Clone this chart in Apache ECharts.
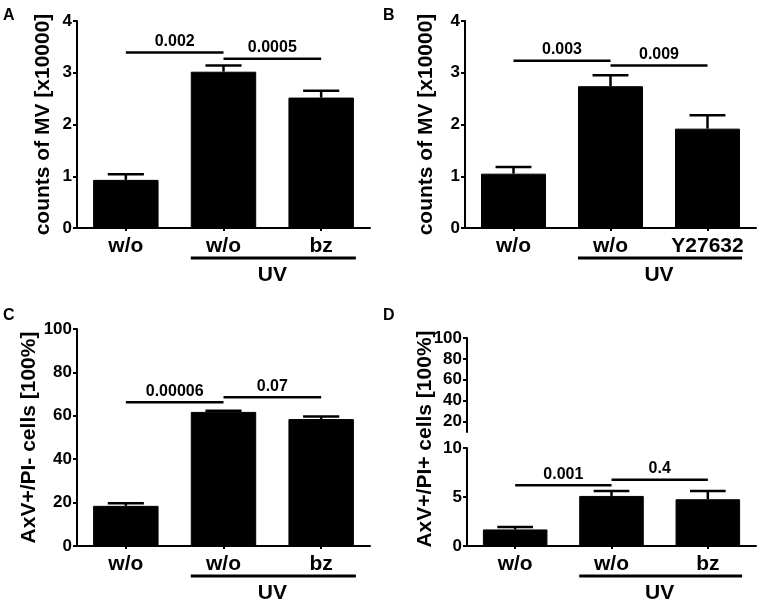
<!DOCTYPE html>
<html>
<head>
<meta charset="utf-8">
<script src="https://cdn.jsdelivr.net/npm/echarts@6/dist/echarts.min.js"></script>
<style>
html,body{margin:0;padding:0;background:#fff;}
#c{width:758px;height:606px;}
</style>
</head>
<body>
<div id="c"></div>
<script>
// ---------- data ----------
const catsA = ['w/o', 'w/o', 'bz'];
const meanA = [0.93, 3.02, 2.52];
const errA  = [0.11, 0.12, 0.13];
const sigA  = [[0, 1, 3.39], [1, 2, 3.27]];
const sigLabA = ['0.002', '0.0005'];
const ticksA = [0, 1, 2, 3, 4];

const catsB = ['w/o', 'w/o', 'Y27632'];
const meanB = [1.05, 2.74, 1.92];
const errB  = [0.13, 0.21, 0.26];
const sigB  = [[0, 1, 3.23], [1, 2, 3.14]];
const sigLabB = ['0.003', '0.009'];
const ticksB = [0, 1, 2, 3, 4];

const catsC = ['w/o', 'w/o', 'bz'];
const meanC = [18.5, 61.8, 58.5];
const errC  = [1.2, 0.5, 1.2];
const sigC  = [[0, 1, 66.3], [1, 2, 68.6]];
const sigLabC = ['0.00006', '0.07'];
const ticksC = [0, 20, 40, 60, 80, 100];

const catsD = ['w/o', 'w/o', 'bz'];
const meanD = [1.69, 5.11, 4.77];
const errD  = [0.26, 0.51, 0.85];
const sigD  = [[0, 1, 6.2], [1, 2, 6.75]];
const sigLabD = ['0.001', '0.4'];
const ticksDLow = [0, 5, 10];
const ticksDHigh = [20, 40, 60, 80, 100];

const uvGroup = [[1, 2]];
const uvLabel = 'UV';

const yNames = ['counts of MV [x10000]', 'counts of MV [x10000]', 'AxV+/PI- cells [100%]', 'AxV+/PI+ cells [100%]'];
const panelLetters = ['A', 'B', 'C', 'D'];

// ---------- helpers ----------
const FONT = 'Liberation Sans, Arial, sans-serif';
const BAR_FRAC = 0.67;

function grid(left, top, width, height) {
  return { left, top, width, height, outerBoundsMode: 'none', containLabel: false };
}
function xCat(gi, cats, show) {
  return {
    type: 'category', gridIndex: gi, data: cats, show: show !== false,
    axisLine: { lineStyle: { color: '#000', width: 2 } },
    axisTick: { show: true, alignWithLabel: true, length: 3, lineStyle: { color: '#000', width: 2 } },
    axisLabel: { color: '#000', fontFamily: FONT, fontWeight: 'bold', fontSize: 21, margin: 8, interval: 0 },
    splitLine: { show: false }
  };
}
function yVal(gi, min, max, ticks, name, gap) {
  return {
    type: 'value', gridIndex: gi, min, max,
    name: name || '', nameLocation: 'middle', nameGap: gap || 0, nameRotate: 90,
    nameTextStyle: { color: '#000', fontFamily: FONT, fontWeight: 'bold', fontSize: 21 },
    axisLine: { show: true, lineStyle: { color: '#000', width: 2 } },
    axisTick: { show: true, length: 4, customValues: ticks, lineStyle: { color: '#000', width: 2 } },
    axisLabel: { color: '#000', fontFamily: FONT, fontWeight: 'bold', fontSize: 17, margin: 5, customValues: ticks },
    splitLine: { show: false }
  };
}
function barSeries(gi, mean) {
  return {
    type: 'bar', xAxisIndex: gi, yAxisIndex: gi, data: mean,
    barWidth: (BAR_FRAC * 100) + '%',
    itemStyle: { color: '#000', borderColor: '#000', borderWidth: 1 },
    silent: true
  };
}
function errSeries(gi, mean, err) {
  return {
    type: 'custom', xAxisIndex: gi, yAxisIndex: gi, silent: true, z: 3,
    data: mean.map((m, i) => [i, m, err[i]]),
    encode: { x: 0, y: 1 },
    renderItem(params, api) {
      const x = api.value(0), m = api.value(1), e = api.value(2);
      const p0 = api.coord([x, m]);
      const p1 = api.coord([x, m + e]);
      const bw = api.size([1, 0])[0];
      const cap = bw * 0.37;
      const st = { stroke: '#000', lineWidth: 2.5 };
      return { type: 'group', children: [
        { type: 'line', shape: { x1: p0[0], y1: p0[1], x2: p0[0], y2: p1[1] }, style: st },
        { type: 'line', shape: { x1: p0[0] - cap / 2, y1: p1[1], x2: p0[0] + cap / 2, y2: p1[1] }, style: st }
      ]};
    }
  };
}
function sigSeries(gi, sig, labels) {
  return {
    type: 'custom', xAxisIndex: gi, yAxisIndex: gi, silent: true, z: 4,
    data: sig, encode: { x: [0, 1], y: 2 },
    renderItem(params, api) {
      const a = api.coord([api.value(0), api.value(2)]);
      const b = api.coord([api.value(1), api.value(2)]);
      return { type: 'group', children: [
        { type: 'line', shape: { x1: a[0], y1: a[1], x2: b[0], y2: b[1] }, style: { stroke: '#000', lineWidth: 2.5 } },
        { type: 'text', x: (a[0] + b[0]) / 2, y: a[1] - 3,
          style: { text: labels[params.dataIndex], fill: '#000', font: 'bold 16px ' + FONT, textAlign: 'center', textVerticalAlign: 'bottom' } }
      ]};
    }
  };
}
function uvSeries(gi) {
  return {
    type: 'custom', xAxisIndex: gi, yAxisIndex: gi, silent: true, z: 4,
    data: uvGroup, encode: { x: [0, 1] },
    renderItem(params, api) {
      const l = api.coord([api.value(0), 0]);
      const r = api.coord([api.value(1), 0]);
      const bw = api.size([1, 0])[0] * BAR_FRAC;
      const y = l[1] + 30;
      return { type: 'group', children: [
        { type: 'line', shape: { x1: l[0] - bw / 2, y1: y, x2: r[0] + bw / 2 + 2, y2: y }, style: { stroke: '#000', lineWidth: 3 } },
        { type: 'text', x: (l[0] + r[0]) / 2, y: y + 17,
          style: { text: uvLabel, fill: '#000', font: 'bold 21px ' + FONT, textAlign: 'center', textVerticalAlign: 'middle' } }
      ]};
    }
  };
}

const option = {
  backgroundColor: '#fff',
  animation: false,
  grid: [
    grid(77, 21, 293, 207),
    grid(465, 21, 291, 207),
    grid(77, 329, 293, 217),
    grid(467, 448, 289, 98),
    grid(467, 338, 289, 94)
  ],
  xAxis: [
    xCat(0, catsA), xCat(1, catsB), xCat(2, catsC), xCat(3, catsD), xCat(4, catsD, false)
  ],
  yAxis: [
    yVal(0, 0, 4, ticksA, yNames[0], 23),
    yVal(1, 0, 4, ticksB, yNames[1], 28),
    yVal(2, 0, 100, ticksC, yNames[2], 28),
    yVal(3, 0, 10, ticksDLow),
    yVal(4, 10, 100, ticksDHigh)
  ],
  graphic: [
    { type: 'text', left: 3, top: 8, style: { text: panelLetters[0], font: 'bold 16px ' + FONT, fill: '#000' } },
    { type: 'text', left: 383, top: 8, style: { text: panelLetters[1], font: 'bold 16px ' + FONT, fill: '#000' } },
    { type: 'text', left: 3, top: 308, style: { text: panelLetters[2], font: 'bold 16px ' + FONT, fill: '#000' } },
    { type: 'text', left: 383, top: 308, style: { text: panelLetters[3], font: 'bold 16px ' + FONT, fill: '#000' } },
    { type: 'text', x: 425, y: 439, rotation: Math.PI / 2,
      style: { text: yNames[3], font: 'bold 21px ' + FONT, fill: '#000', textAlign: 'center', textVerticalAlign: 'middle' } }
  ],
  series: [
    barSeries(0, meanA), errSeries(0, meanA, errA), sigSeries(0, sigA, sigLabA), uvSeries(0),
    barSeries(1, meanB), errSeries(1, meanB, errB), sigSeries(1, sigB, sigLabB), uvSeries(1),
    barSeries(2, meanC), errSeries(2, meanC, errC), sigSeries(2, sigC, sigLabC), uvSeries(2),
    barSeries(3, meanD), errSeries(3, meanD, errD), sigSeries(3, sigD, sigLabD), uvSeries(3)
  ]
};

const chart = echarts.init(document.getElementById('c'), null, { renderer: 'canvas' });
chart.setOption(option);
</script>
</body>
</html>
